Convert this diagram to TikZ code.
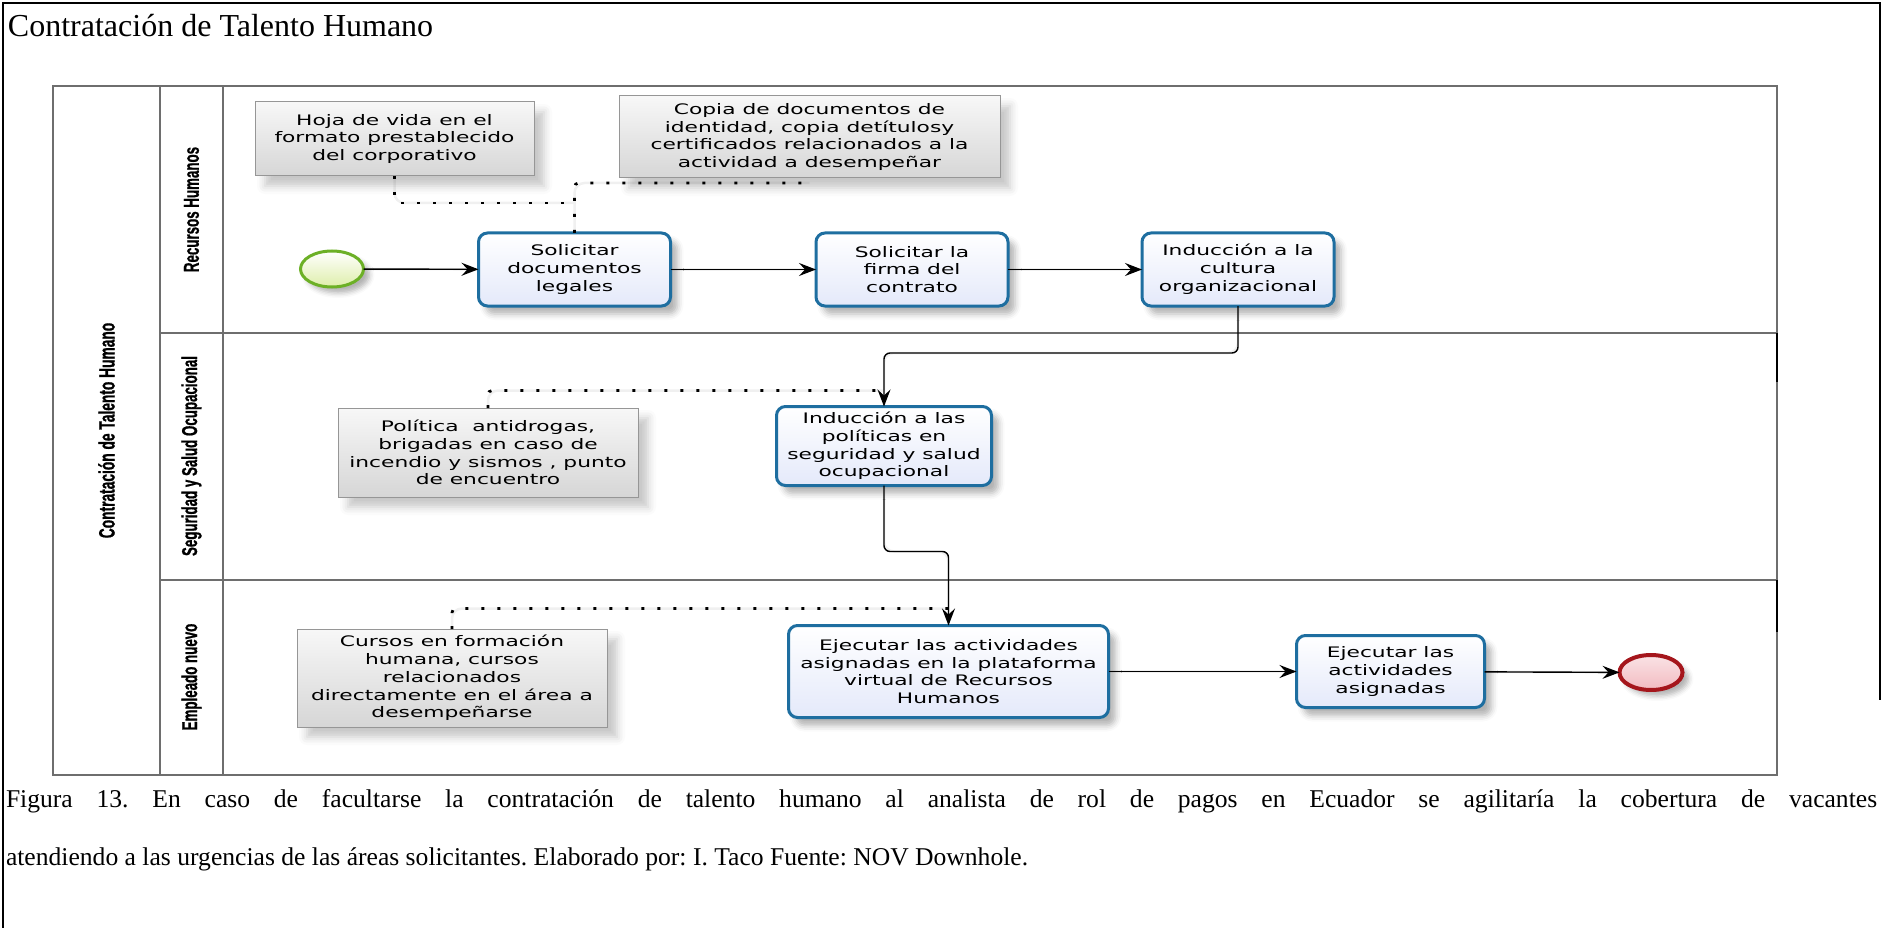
\documentclass[tikz,border=0pt]{standalone}
\usepackage{fontspec}
\setmainfont{Liberation Serif}
\newfontfamily\bpmnfont[FakeStretch=1.5]{DejaVu Sans}
\newfontfamily\lanefont[FakeStretch=0.62,BoldFeatures={FakeBold=0.8}]{Liberation Sans}
\usetikzlibrary{arrows.meta,shapes.geometric,shadows.blur,backgrounds}

\definecolor{taskblue}{RGB}{30,110,160}
\definecolor{taskfill}{RGB}{228,233,250}
\definecolor{startgreen}{RGB}{108,176,38}
\definecolor{startfill}{RGB}{222,238,170}
\definecolor{endred}{RGB}{165,22,28}
\definecolor{endfill}{RGB}{242,186,192}
\definecolor{annborder}{RGB}{150,150,150}
\definecolor{annfill}{RGB}{214,214,214}
\definecolor{poolline}{RGB}{110,110,110}

\begin{document}
\frenchspacing
\begin{tikzpicture}[x=1pt,y=-1pt,
  every node/.style={inner sep=0pt,outer sep=0pt},
  bpmntext/.style={font=\bpmnfont\fontsize{14.5}{17.8}\selectfont},
  task/.style={bpmntext,draw=taskblue,line width=3pt,rounded corners=9pt,
    top color=white,bottom color=taskfill,align=center,
    blur shadow={shadow xshift=7pt,shadow yshift=-8pt,shadow blur radius=6pt,shadow opacity=30}},
  annot/.style={bpmntext,draw=annborder,line width=1pt,
    top color=gray!6,bottom color=annfill,align=center,
    blur shadow={shadow xshift=10pt,shadow yshift=-10pt,shadow blur radius=8pt,shadow opacity=22}},
  startev/.style={ellipse,draw=startgreen,line width=3pt,top color=white,bottom color=startfill,
    minimum width=63pt,minimum height=36pt,
    blur shadow={shadow xshift=6pt,shadow yshift=-6pt,shadow blur radius=5pt,shadow opacity=30}},
  endev/.style={ellipse,draw=endred,line width=4pt,top color=white!60!endfill,bottom color=endfill,
    minimum width=63pt,minimum height=35pt,
    blur shadow={shadow xshift=6pt,shadow yshift=-6pt,shadow blur radius=5pt,shadow opacity=30}},
  flow/.style={draw=black,line width=1.4pt,rounded corners=6pt,
    -{Stealth[length=17pt,width=13pt,inset=6pt]}},
  assoc/.style={draw=black,line width=2.8pt,dash pattern=on 3pt off 13pt,rounded corners=4pt},
  ghost/.style={draw=gray!12,line width=2.5pt,rounded corners=10pt},
  lanelabel/.style={rotate=90,font=\lanefont\fontsize{21.5}{24}\selectfont\bfseries},
  poollabel/.style={rotate=90,font=\lanefont\fontsize{22.2}{26}\selectfont\bfseries},
  pool/.style={draw=poolline,line width=2pt}
]
\useasboundingbox (0,0) rectangle (1883,928);

% outer frame
\draw[line width=2.5pt] (3,928) -- (3,3) -- (1880,3) -- (1880,700);

% title
\node[anchor=base west,font=\fontsize{32}{38}\selectfont] (title) at (8,37) {Contratación de Talento Humano};

% pool and lanes
\draw[pool] (53,86.5) rectangle (1777,774.6);
\draw[pool] (159.7,86.5) -- (159.7,774.6);
\draw[pool] (223.4,86.5) -- (223.4,774.6);
\draw[pool] (159.7,332.6) -- (1777,332.6);
\draw[pool] (159.7,580) -- (1777,580);
\draw[line width=2pt] (1777,333) -- (1777,382);
\draw[line width=2pt] (1777,580) -- (1777,632);

\node[poollabel] (pooltxt) at (106.5,430.5) {Contratación de Talento Humano};
\node[lanelabel] (lane1) at (191.5,209.5) {Recursos Humanos};
\node[lanelabel] (lane2) at (191.5,456) {Seguridad y Salud Ocupacional};
\node[lanelabel] (lane3) at (191.5,677) {Empleado nuevo};

% annotations
\node[annot,minimum width=279pt,minimum height=74pt] (hoja) at (394.5,139)
  {Hoja de vida en el\\formato prestablecido\\del corporativo};
\node[annot,minimum width=381pt,minimum height=82pt] (copia) at (809.5,137)
  {Copia de documentos de\\identidad, copia detítulosy\\certificados relacionados a la\\actividad a desempeñar};
\node[annot,minimum width=300pt,minimum height=89pt] (poli) at (488,452.5)
  {Política\ \ antidrogas,\\brigadas en caso de\\incendio y sismos , punto\\de encuentro};
\node[annot,minimum width=310pt,minimum height=98pt] (curs) at (452,678)
  {Cursos en formación\\humana, cursos\\relacionados\\directamente en el área a\\desempeñarse};

% events and tasks
\node[startev] (start) at (332,269) {};
\node[task,minimum width=192pt,minimum height=73pt] (t1) at (574.5,269.5) {Solicitar\\documentos\\legales};
\node[task,minimum width=192pt,minimum height=73pt] (t2) at (912,269.5) {Solicitar la\\firma del\\contrato};
\node[task,minimum width=192pt,minimum height=73pt] (t3) at (1238,269.5) {Inducción a la\\cultura\\organizacional};
\node[task,minimum width=215pt,minimum height=79pt] (t4) at (884,446) {Inducción a las\\políticas en\\seguridad y salud\\ocupacional};
\node[task,minimum width=320pt,minimum height=92pt] (t5) at (948.5,671.5) {Ejecutar las actividades\\asignadas en la plataforma\\virtual de Recursos\\Humanos};
\node[task,minimum width=188pt,minimum height=72pt] (t6) at (1390.5,671.5) {Ejecutar las\\actividades\\asignadas};
\node[endev] (end) at (1651,672.5) {};

\coordinate (hjoin) at (574.5,203);

% faint offset copies of the connectors, underneath everything
\begin{scope}[on background layer,transform canvas={shift={(12pt,-12pt)}}]
  \draw[ghost] (hoja.south) |- (hjoin);
  \draw[ghost] (t1.north) |- ([yshift=-5pt]copia.south);
  \draw[ghost] (poli.north) |- ([yshift=16pt]t4.north);
  \draw[ghost] (curs.north) |- ([yshift=17pt]t5.north);
  \draw[ghost] (start) -- (t1);
  \draw[ghost] (t1) -- (t2);
  \draw[ghost] (t2) -- (t3);
  \draw[ghost] (t3.south) -- ++(0,47) -| (t4.north);
  \draw[ghost] (t4.south) -- ++(0,66) -| (t5.north);
  \draw[ghost] (t5) -- (t6);
  \draw[ghost] (t6) -- (end);
\end{scope}

% associations
\draw[assoc] (hoja.south) |- (hjoin);
\draw[assoc] (t1.north) |- ([yshift=-5pt]copia.south);
\draw[assoc] (poli.north) |- ([yshift=16pt]t4.north);
\draw[assoc] (curs.north) |- ([yshift=17pt]t5.north);

% sequence flows
\draw[flow] (start) -- (t1);
\draw[flow] (t1) -- (t2);
\draw[flow] (t2) -- (t3);
\draw[flow] (t3.south) -- ++(0,47) -| (t4.north);
\draw[flow] (t4.south) -- ++(0,66) -| (t5.north);
\draw[flow] (t5) -- (t6);
\draw[flow] (t6) -- (end);

% caption
\node[anchor=base west,font=\fontsize{25.6}{30}\selectfont] (cap1) at (6,807)
  {\makebox[1871pt][s]{Figura 13. En caso de facultarse la contratación de talento humano al analista de rol de pagos en Ecuador se agilitaría la cobertura de vacantes}};
\node[anchor=base west,font=\fontsize{25.6}{30}\selectfont] (cap2) at (6,865)
  {atendiendo a las urgencias de las áreas solicitantes. Elaborado por: I. Taco Fuente: NOV Downhole.};
\end{tikzpicture}
\end{document}
